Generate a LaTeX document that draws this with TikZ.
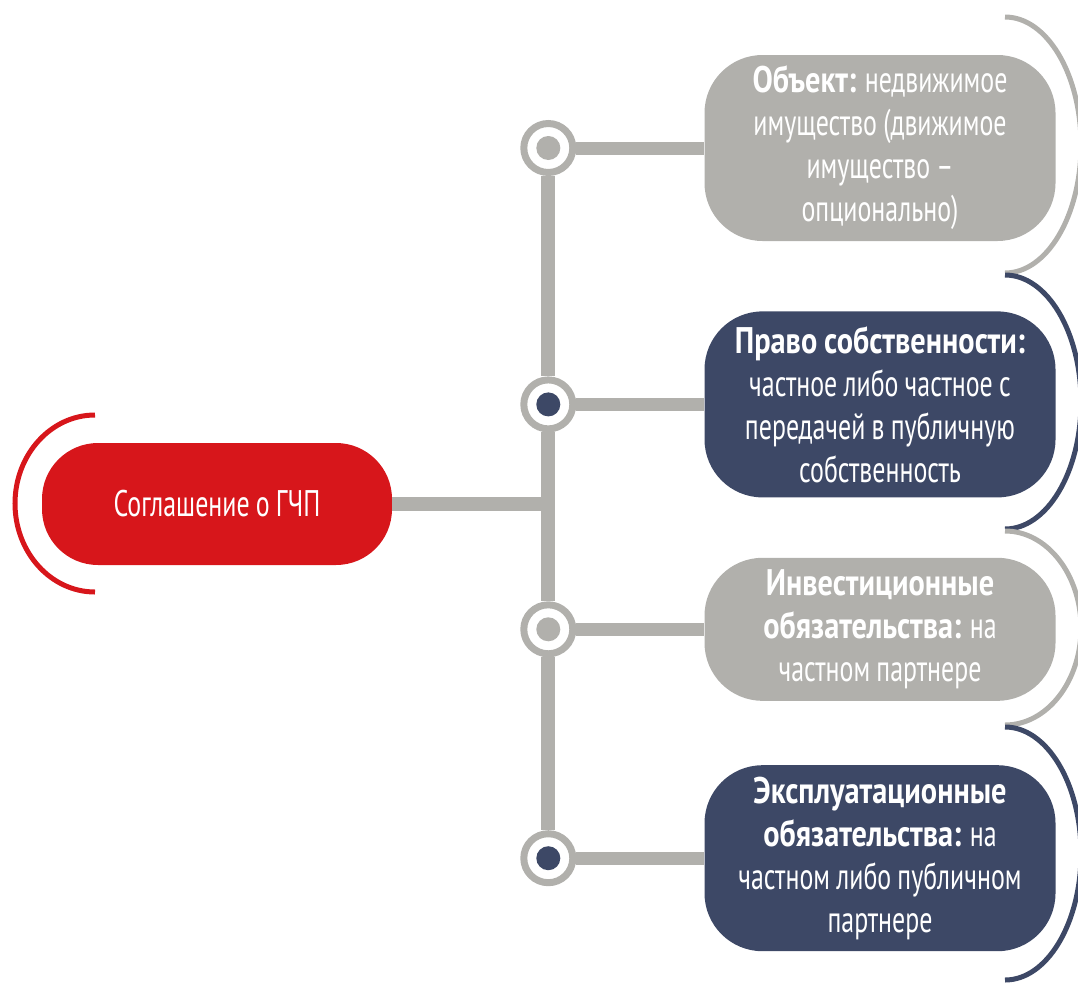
\documentclass[tikz,border=0pt]{standalone}
\usepackage{fontspec}
\setmainfont{PT Sans}[FakeStretch=0.7, WordSpace=0.9,
    BoldFeatures={FakeStretch=0.82}]
\usepackage{tikz}
\usetikzlibrary{shapes.geometric, positioning}
\definecolor{pppred}{RGB}{215,22,27}
\definecolor{pppnavy}{RGB}{61,72,102}
\definecolor{pppgray}{RGB}{177,176,172}
\tikzstyle{item} = [
    rectangle, rounded corners=58pt, minimum width=351pt, align=center,
    text=white, inner sep=0pt, font=\fontsize{37}{43}\selectfont
]
\tikzstyle{ring} = [
    circle, draw=pppgray, line width=7pt, fill=white, minimum size=49pt,
    inner sep=0pt
]
\tikzstyle{bar} = [pppgray, line width=13pt]
\tikzstyle{brace} = [line width=5pt]

\begin{document}
\begin{tikzpicture}[x=1pt, y=-1pt]
        \useasboundingbox (0,0) rectangle (1078,983);
        \node (ppp) [item, fill=pppred, minimum width=350pt, minimum height=122pt,
            rounded corners=56pt] at (217,504) {Соглашение о ГЧП};
        \node (obj) [item, fill=pppgray, minimum height=186pt] at (880,148)
            {\textbf{Объект:} недвижимое\\ имущество (движимое\\ имущество –\\ опционально)};
        \node (own) [item, fill=pppnavy, minimum height=186pt, below=70pt of obj]
            {\textbf{Право собственности:}\\ частное либо частное с\\ передачей в публичную\\ собственность};
        \node (inv) [item, fill=pppgray, minimum height=143pt, below=60pt of own]
            {\textbf{Инвестиционные}\\ \textbf{обязательства:} на\\ частном партнере};
        \node (ops) [item, fill=pppnavy, minimum height=186pt, below=64pt of inv]
            {\textbf{Эксплуатационные}\\ \textbf{обязательства:} на\\ частном либо публичном\\ партнере};

        \node (c1) [ring, left=128pt of obj, path picture={
            \fill[pppgray] (path picture bounding box.center) circle (12pt);}] {};
        \node (c2) [ring, left=128pt of own, path picture={
            \fill[pppnavy] (path picture bounding box.center) circle (12pt);}] {};
        \node (c3) [ring, left=128pt of inv, path picture={
            \fill[pppgray] (path picture bounding box.center) circle (12pt);}] {};
        \node (c4) [ring, left=128pt of ops, path picture={
            \fill[pppnavy] (path picture bounding box.center) circle (12pt);}] {};

        \draw [bar, line width=14pt] (c1) -- (c2);
        \draw [bar, line width=14pt] (c2) -- (c3);
        \draw [bar, line width=14pt] (c3) -- (c4);
        \draw [bar, line width=14pt] (ppp.east) -- (ppp -| c1) coordinate(trunk);
        \draw [bar] (c1) -- (obj);
        \draw [bar] (c2) -- (own);
        \draw [bar] (c3) -- (inv);
        \draw [bar] (c4) -- (ops);

        \draw [brace, pppred] (95,415)
            arc[start angle=-90, end angle=-270, x radius=80, y radius=88.5];
        \draw [brace, pppgray] (1005,17)
            arc[start angle=-90, end angle=90, x radius=76, y radius=128];
        \draw [brace, pppnavy] (1005,275)
            arc[start angle=-90, end angle=90, x radius=76, y radius=127];
        \draw [brace, pppgray] (1005,531)
            arc[start angle=-90, end angle=90, x radius=76, y radius=97];
        \draw [brace, pppnavy] (1005,727)
            arc[start angle=-90, end angle=90, x radius=76, y radius=126.5];
    \end{tikzpicture}
\end{document}
